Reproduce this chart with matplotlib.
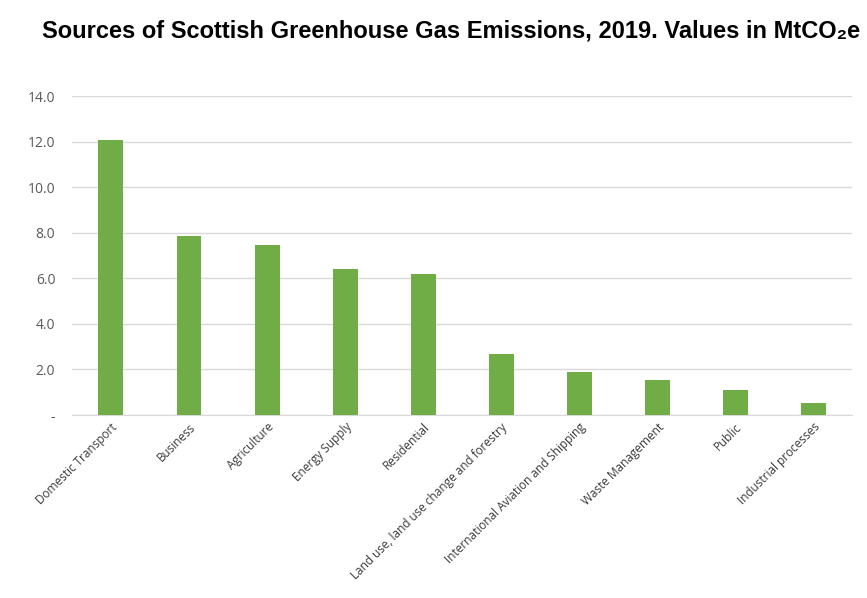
"""Sources of Scottish greenhouse gas emissions, 2019 (MtCO2e) - bar chart."""
import matplotlib
matplotlib.use('Agg')
import matplotlib.pyplot as plt

SECTORS = ['Domestic Transport', 'Business', 'Agriculture', 'Energy Supply', 'Residential',
           'Land use, land use change and forestry', 'International Aviation and Shipping',
           'Waste Management', 'Public', 'Industrial processes']
EMISSIONS = [12.07, 7.85, 7.48, 6.43, 6.21, 2.70, 1.89, 1.53, 1.12, 0.53]
Y_TICKS = [0, 2, 4, 6, 8, 10, 12, 14]
Y_LABELS = ['-', '2.0', '4.0', '6.0', '8.0', '10.0', '12.0', '14.0']

GREEN = '#70AD47'
GRID = '#D9D9D9'
LABEL = '#595959'

fig = plt.figure(figsize=(8.67, 5.98), dpi=100)
ax = fig.add_axes([0.083, 0.306, 0.9, 0.533])

x = range(len(SECTORS))
ax.bar(x, EMISSIONS, width=0.32, color=GREEN, zorder=3)
ax.set_xlim(-0.5, len(SECTORS) - 0.5)
ax.set_ylim(0, 14)
ax.set_yticks(Y_TICKS)
ax.set_yticklabels(Y_LABELS, fontsize=10, color=LABEL, family='Open Sans')
ax.set_xticks(list(x))
ax.set_xticklabels(SECTORS, rotation=45, ha='right', rotation_mode='anchor',
                   fontsize=8.5, color='#3A3A3A', family='Open Sans')
ax.yaxis.grid(True, color=GRID, lw=1, zorder=0)
for s in ['top', 'right', 'left']:
    ax.spines[s].set_visible(False)
ax.spines['bottom'].set_color(GRID)
ax.tick_params(axis='both', length=0)
ax.tick_params(axis='y', pad=12)
ax.tick_params(axis='x', pad=4)

fig.text(0.52, 0.948, 'Sources of Scottish Greenhouse Gas Emissions, 2019. Values in MtCO\u2082e',
         ha='center', va='center', fontsize=17, fontweight='bold',
         family=['Liberation Sans', 'DejaVu Sans'])

fig.savefig('out.png', dpi=100, facecolor='white')
